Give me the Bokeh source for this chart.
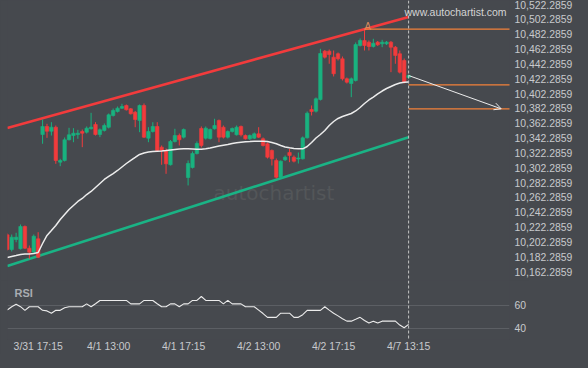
from bokeh.plotting import figure
from bokeh.models import (ColumnDataSource, Range1d, FixedTicker, NumeralTickFormatter,
                          Span, Label, Arrow, OpenHead)
from bokeh.layouts import column
from bokeh.embed import file_html
from bokeh.resources import INLINE

# ---------------- data ----------------
opens = [10211.9, 10192.1, 10205.6, 10193.1, 10223.1, 10193.9, 10188.5, 10206.5,
         10347.1, 10357.9, 10351.5, 10356.9, 10309.8, 10312.1, 10340.0, 10345.7, 10347.1, 10351.1,
         10350.2, 10354.8, 10360.6, 10347.1, 10352.5, 10356.9, 10372.7, 10378.1, 10382.5, 10386.2,
         10381.7, 10377.1, 10366.0,
         10386.2, 10342.1, 10351.1, 10357.9, 10330.0, 10325.5, 10306.3, 10337.7, 10345.7, 10343.5,
         10289.1, 10302.6, 10321.5, 10355.2, 10342.1, 10341.7, 10354.8, 10366.0, 10356.9, 10343.5,
         10351.1, 10346.7, 10357.9, 10345.7, 10341.3, 10342.1, 10348.0, 10341.3, 10334.6, 10325.5,
         10312.1, 10289.5, 10313.0, 10322.8, 10316.5, 10314.1, 10314.3, 10342.6, 10380.8, 10378.5,
         10394.3, 10459.4, 10459.4, 10451.3, 10455.9, 10449.1, 10422.2, 10415.8, 10419.9, 10467.0,
         10473.8, 10471.5, 10465.7, 10471.5, 10469.3, 10469.3, 10471.5, 10464.7, 10455.9, 10446.8, 10423.9]
highs = [10213.7, 10212.3, 10214.6, 10225.8, 10224.5, 10197.5, 10212.3, 10215.4,
         10367.3, 10361.5, 10363.7, 10359.2, 10314.3, 10343.1, 10356.1, 10355.6, 10353.4, 10353.8,
         10357.9, 10376.3, 10363.7, 10355.2, 10361.9, 10375.4, 10382.1, 10384.8, 10388.5, 10387.5,
         10382.8, 10378.8, 10387.5,
         10388.9, 10356.9, 10363.7, 10363.7, 10332.3, 10328.2, 10339.7, 10354.8, 10348.4, 10355.2,
         10312.1, 10324.2, 10337.7, 10357.9, 10357.9, 10355.2, 10368.3, 10367.3, 10359.2, 10352.5,
         10356.5, 10359.2, 10359.2, 10347.1, 10347.1, 10349.8, 10356.9, 10343.1, 10336.3, 10326.9,
         10314.7, 10312.1, 10318.8, 10327.8, 10318.8, 10322.8, 10344.4, 10378.1, 10386.2, 10397.0,
         10462.6, 10461.0, 10461.6, 10460.3, 10457.6, 10452.2, 10423.9, 10423.9, 10471.1, 10476.5,
         10489.0, 10473.8, 10476.1, 10473.1, 10474.7, 10473.1, 10473.1, 10466.4, 10460.3, 10449.5, 10428.0]
lows = [10190.8, 10189.4, 10201.9, 10192.1, 10192.8, 10179.6, 10186.7, 10180.6,
        10334.6, 10342.6, 10345.7, 10307.6, 10304.4, 10310.7, 10339.0, 10336.7, 10341.3, 10330.0,
        10348.4, 10353.8, 10345.7, 10343.5, 10351.1, 10355.2, 10371.3, 10376.7, 10381.5, 10379.4,
        10374.0, 10356.9, 10350.2,
        10342.4, 10336.7, 10349.8, 10324.2, 10306.3, 10294.1, 10305.3, 10336.3, 10332.3, 10341.7,
        10278.4, 10301.3, 10320.1, 10329.6, 10340.3, 10340.3, 10353.8, 10336.7, 10341.7, 10341.7,
        10349.8, 10345.7, 10344.4, 10340.3, 10339.7, 10341.0, 10342.4, 10330.9, 10314.7, 10305.3,
        10287.8, 10288.5, 10311.4, 10309.8, 10309.4, 10308.0, 10313.4, 10341.7, 10372.7, 10376.7,
        10392.9, 10449.5, 10442.4, 10425.3, 10446.8, 10419.9, 10415.8, 10397.4, 10418.5, 10465.7,
        10460.3, 10460.3, 10464.3, 10466.4, 10464.7, 10467.7, 10431.1, 10442.4, 10429.3, 10415.8, 10422.6]
closes = [10192.1, 10208.7, 10208.7, 10223.1, 10193.9, 10188.5, 10210.0, 10181.7,
          10357.9, 10351.5, 10356.9, 10312.1, 10312.1, 10340.0, 10346.7, 10348.8, 10348.8, 10348.8,
          10355.6, 10356.9, 10347.1, 10353.4, 10359.2, 10373.6, 10379.4, 10382.5, 10384.8, 10380.4,
          10375.0, 10367.3, 10386.2,
          10343.5, 10351.1, 10357.9, 10325.5, 10325.5, 10307.6, 10337.7, 10345.7, 10340.0, 10353.8,
          10308.0, 10321.5, 10335.0, 10332.3, 10355.6, 10353.8, 10359.2, 10343.5, 10343.5, 10351.1,
          10355.2, 10356.9, 10346.7, 10341.3, 10345.7, 10348.0, 10343.5, 10332.3, 10316.5, 10314.3,
          10289.5, 10311.1, 10316.5, 10318.8, 10311.1, 10315.4, 10342.6, 10375.8, 10378.1, 10395.2,
          10456.3, 10451.3, 10454.9, 10428.9, 10449.1, 10422.2, 10417.6, 10422.2, 10468.4, 10473.8,
          10467.0, 10465.7, 10470.1, 10468.0, 10471.5, 10471.5, 10464.7, 10453.6, 10431.1, 10417.6, 10426.6]
ma_values = [10181.3, 10182.7, 10184.0, 10185.4, 10186.1, 10186.1, 10186.7, 10188.1,
             10200.2, 10211.0, 10217.7, 10224.5, 10232.6, 10239.3, 10246.0, 10251.4, 10256.8, 10260.9,
             10266.2, 10270.3, 10275.7, 10281.1, 10286.5, 10290.5, 10294.5, 10298.6, 10303.3, 10308.0,
             10312.1, 10316.1, 10320.2,
             10322.2, 10323.5, 10324.2, 10324.6, 10324.9, 10325.5, 10326.2, 10326.9, 10327.6, 10327.8,
             10327.8, 10327.6, 10327.3, 10327.3, 10327.8, 10328.9, 10330.3, 10331.6, 10332.6, 10333.6,
             10335.0, 10335.9, 10336.7, 10337.4, 10337.7, 10338.1, 10338.1, 10338.1, 10337.7, 10336.3,
             10334.6, 10332.3, 10330.3, 10329.2, 10328.2, 10327.8, 10327.8, 10330.9, 10336.3, 10342.4,
             10347.1, 10352.5, 10359.2, 10364.6, 10368.7, 10371.4, 10373.4, 10375.4, 10378.8, 10383.5,
             10388.9, 10393.6, 10397.6, 10401.7, 10405.7, 10409.1, 10411.8, 10414.5, 10416.5, 10417.6, 10417.9]
rsi_values = [56.1, 58.9, 61.0, 59.0, 55.8, 58.9, 58.9, 58.9, 55.8, 55.3,
              53.3, 55.8, 55.8, 58.0, 58.9, 58.9, 58.9, 58.9, 61.4, 58.9,
              61.5, 64.4, 64.4, 64.4, 64.4, 64.4, 64.4, 64.4, 61.4, 61.4,
              61.4, 64.4, 64.4, 64.4, 61.5, 58.9, 58.9, 61.4, 61.4, 58.9,
              61.4, 61.4, 64.4, 64.4, 67.8, 64.4, 64.4, 64.4, 64.4, 61.4,
              64.4, 61.4, 61.4, 61.4, 58.9, 58.9, 58.9, 56.0, 53.0, 49.7,
              49.7, 49.7, 53.3, 53.3, 53.3, 49.7, 49.7, 52.0, 55.8, 55.8,
              55.8, 55.8, 58.9, 56.0, 53.3, 51.0, 48.5, 46.4, 46.4, 48.0,
              49.7, 47.0, 44.7, 46.4, 44.7, 46.4, 46.4, 46.4, 46.4, 43.0,
              40.6, 43.6]

# channel (trend lines) end points
channel_x = [0, 91]
resistance_y = [10355.9, 10505.6]
support_y = [10169.9, 10343.5]

# forecast levels
level_x0 = [81, 91, 91]
level_x1 = [114, 114, 114]
level_y = [10489.0, 10414.1, 10381.7]
arrow_from = (91, 10426.6)
arrow_to = (112, 10381.7)
last_index = 91

price_ticks = [10162.2859, 10182.2859, 10202.2859, 10222.2859, 10242.2859, 10262.2859,
               10282.2859, 10302.2859, 10322.2859, 10342.2859, 10362.2859, 10382.2859,
               10402.2859, 10422.2859, 10442.2859, 10462.2859, 10482.2859, 10502.2859,
               10522.2859]
rsi_ticks = [40, 60]
time_tick_idx = [7, 23, 40, 57, 74, 91]
time_tick_labels = ["3/31 17:15", "4/1 13:00", "4/1 17:15", "4/2 13:00", "4/2 17:15", "4/7 13:15"]

# ---------------- style ----------------
BG = "#46494e"
GREEN = "#19b27f"
RED = "#f23b3c"
ORANGE = "#f4823a"
WHITE = "#ececec"
LABEL = "#c8cacd"
FONT = "Liberation Sans"

idx = list(range(len(opens)))
src = ColumnDataSource(dict(
    x=idx, high=highs, low=lows,
    top=[max(o, c) for o, c in zip(opens, closes)],
    bottom=[min(o, c) for o, c in zip(opens, closes)],
    color=[GREEN if c >= o else RED for o, c in zip(opens, closes)],
))

x_range = Range1d(0.045, 113.88)

p = figure(frame_width=502, frame_height=280, x_range=x_range,
           y_range=Range1d(10150.32, 10527.68),
           x_axis_location=None, y_axis_location="right",
           toolbar_location=None, output_backend="svg", min_border=0, min_border_left=7,
           background_fill_color=BG, border_fill_color=BG, outline_line_color=None)
p.grid.visible = False
ya = p.yaxis[0]
ya.ticker = FixedTicker(ticks=price_ticks)
ya.formatter = NumeralTickFormatter(format="0,0.0000")
ya.axis_line_color = None
ya.major_tick_line_color = None
ya.minor_tick_line_color = None
ya.major_tick_out = 0
ya.minor_tick_out = 0
ya.major_label_standoff = 5
ya.major_label_text_font = FONT
ya.major_label_text_font_size = "10.4px"
ya.major_label_text_color = LABEL

wm = Label(x=46.76, y=10268.9, text="autochartist", text_font="DejaVu Sans",
           text_font_size="20px", text_color="#535659", text_baseline="alphabetic",
           level="underlay")
p.add_layout(wm)

p.line(channel_x, resistance_y, line_color=RED, line_width=2.6)
p.line(channel_x, support_y, line_color="#1ab385", line_width=2.6)

p.segment(x0="x", y0="high", x1="x", y1="low", line_color="color", line_width=1, source=src)
p.vbar(x="x", width=0.78, top="top", bottom="bottom", fill_color="color",
       line_color="color", line_width=0.6, source=src)

p.line(idx, ma_values, line_color=WHITE, line_width=1.5)

p.segment(x0=level_x0, y0=level_y, x1=level_x1, y1=level_y, line_color=ORANGE, line_width=1.2)
p.add_layout(Arrow(end=OpenHead(size=7, line_color=WHITE, line_width=1),
                   x_start=arrow_from[0], y_start=arrow_from[1],
                   x_end=arrow_to[0], y_end=arrow_to[1],
                   line_color=WHITE, line_width=1))
p.add_layout(Span(location=last_index, dimension="height", line_color="#c4c4c4",
                  line_dash="3 2", line_width=1))
p.add_layout(Label(x=81, y=10492.6, text="A", text_font=FONT, text_font_size="10px",
                   text_color="#d98a5c", text_align="left", text_baseline="alphabetic"))
p.add_layout(Label(x=90.07, y=10512.2, text="www.autochartist.com", text_font=FONT,
                   text_font_size="10.5px", text_color="#d4d4d4", text_baseline="middle"))

# ---------------- RSI panel ----------------
r = figure(frame_width=502, frame_height=59, x_range=x_range, y_range=Range1d(30.43, 81.74),
           y_axis_location="right", toolbar_location=None, output_backend="svg",
           min_border=0, min_border_left=7,
           background_fill_color=BG, border_fill_color=BG, outline_line_color=None)
r.xgrid.visible = False
r.ygrid.grid_line_color = "#5c5f64"
r.ygrid.grid_line_width = 1
ry = r.yaxis[0]
ry.ticker = FixedTicker(ticks=rsi_ticks)
rx = r.xaxis[0]
rx.ticker = FixedTicker(ticks=time_tick_idx)
rx.major_label_overrides = dict(zip(time_tick_idx, time_tick_labels))
for ax in (rx, ry):
    ax.axis_line_color = None
    ax.major_tick_line_color = None
    ax.minor_tick_line_color = None
    ax.major_tick_out = 0
    ax.minor_tick_out = 0
    ax.major_label_text_font = FONT
    ax.major_label_text_font_size = "10.4px"
    ax.major_label_text_color = LABEL
ry.major_label_standoff = 5
rx.major_label_standoff = 1

r.line(idx, rsi_values, line_color=WHITE, line_width=1.1)
r.add_layout(Span(location=last_index, dimension="height", line_color="#c4c4c4",
                  line_dash="3 2", line_width=1))
r.add_layout(Label(x=1.63, y=71.3, text="RSI", text_font=FONT, text_font_size="11px",
                   text_font_style="bold", text_color="#a9acb1", text_baseline="middle"))

layout = column(p, r)
try:
    from bokeh.models import GlobalInlineStyleSheet
    layout.stylesheets = [GlobalInlineStyleSheet(css="body { background-color: #46494e; }")]
except Exception:
    pass

open("out.html", "w").write(file_html(layout, INLINE))
